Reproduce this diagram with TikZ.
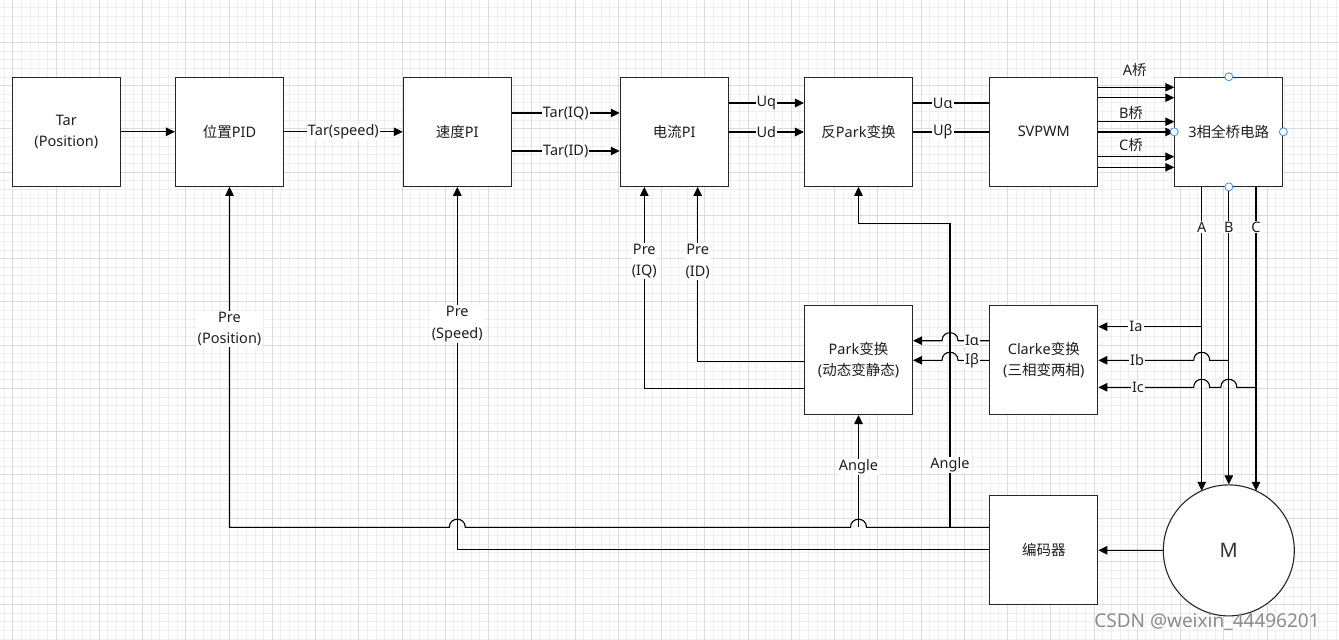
\documentclass[tikz,border=0pt]{standalone}
\usepackage{fontspec}
\setmainfont{Noto Sans}
\newfontfamily\cjk{Noto Sans CJK SC}
\usetikzlibrary{arrows.meta,calc}
\newcommand\myfs{\fontsize{14.5}{21.5}\selectfont}
\definecolor{gminor}{HTML}{EFEFEF}
\definecolor{gmajor}{HTML}{DCDCDC}
\definecolor{txt}{HTML}{1E1E1E}
\definecolor{hblue}{HTML}{3D8FE6}
\tikzset{
  box/.style={draw=black!85, line width=1.1pt, fill=white, minimum width=108pt, minimum height=109pt, inner sep=0pt, font=\myfs, text=txt, align=center},
  lbl/.style={fill=white, inner sep=1pt, font=\myfs, text=txt, align=center},
  ln/.style={line width=1.1pt, draw=black},
  arr/.style={ln, -{Triangle[length=9pt,width=8.5pt]}},
  handle/.style={circle, draw=hblue, fill=white, line width=0.8pt, minimum size=8pt, inner sep=0pt},
}
\begin{document}
\begin{tikzpicture}[x=1pt,y=-1pt]
\useasboundingbox (0,0) rectangle (1339,640);
\fill[white] (0,0) rectangle (1339,640);
% grid
\foreach \i in {0,...,154} \draw[gminor, line width=0.8pt] ({4.05+8.65*\i},0) -- ({4.05+8.65*\i},640);
\foreach \i in {0,...,73} \draw[gminor, line width=0.8pt] (0,{7.7+8.65*\i}) -- (1339,{7.7+8.65*\i});
\foreach \i in {0,...,30} \draw[gmajor, line width=0.8pt] ({12.7+43.25*\i},0) -- ({12.7+43.25*\i},640);
\foreach \i in {0,...,13} \draw[gmajor, line width=0.8pt] (0,{42.3+43.25*\i}) -- (1339,{42.3+43.25*\i});

% boxes
\node[box] (tar) at (66.3,131.8) {Tar\\(Position)};
\node[box] (pid) at (229.5,131.8) {{\cjk 位置}PID};
\node[box] (spd) at (457.3,131.8) {{\cjk 速度}PI};
\node[box] (cur) at (674.3,131.8) {{\cjk 电流}PI};
\node[box] (ipk) at (858.5,131.8) {{\cjk 反}Park{\cjk 变换}};
\node[box] (svp) at (1043.8,131.8) {SVPWM};
\node[box] (brg) at (1228.8,131.8) {3{\cjk 相全桥电路}};
\node[box] (park) at (858.5,360) {Park{\cjk 变换}\\({\cjk 动态变静态})};
\node[box] (clk) at (1043.8,359.8) {Clarke{\cjk 变换}\\({\cjk 三相变两相})};
\node[box] (enc) at (1043.8,550.3) {{\cjk 编码器}};
\node[circle, draw=black!85, line width=1.1pt, fill=white, minimum size=131pt, inner sep=0pt, font=\fontsize{20}{24}\selectfont, text=black!80] (motor) at (1228.8,550.4) {M};

% junction coordinates
\coordinate (mA) at (1201.7,490.8);
\coordinate (mC) at (1256,490.8);
\coordinate (jIa) at (1201.7,326.7);
\coordinate (jIb) at (1228.8,360.3);
\coordinate (jIc) at (1256,387.3);
\coordinate (jAng) at (950,527.3);
\coordinate (jAng2) at (858.5,527.3);

% top row connectors
\draw[arr] (tar.east) -- (pid.west);
\draw[arr] (pid.east) -- node[lbl] (l1) {Tar(speed)} (spd.west);
\draw[arr] (spd.east |- 0,113) -- node[lbl] (l2) {Tar(IQ)} (cur.west |- 0,113);
\draw[arr] (spd.east |- 0,151) -- node[lbl] (l3) {Tar(ID)} (cur.west |- 0,151);
\draw[arr] (cur.east |- 0,103) -- node[lbl] (l4) {Uq} (ipk.west |- 0,103);
\draw[arr] (cur.east |- 0,132) -- node[lbl] (l5) {Ud} (ipk.west |- 0,132);
\draw[ln] (ipk.east |- 0,103) -- node[lbl,pos=0.39] (l6) {Uα} (svp.west |- 0,103);
\draw[ln] (ipk.east |- 0,132) -- node[lbl,pos=0.39] (l7) {Uβ} (svp.west |- 0,132);
\foreach \yy in {87.3,97.7,121.7,132,156.7,167.3}
  \draw[arr] (svp.east |- 0,\yy) -- (brg.west |- 0,\yy);
\node[lbl] (lA) at (1134.7,70) {A{\cjk 桥}};
\node[lbl] (lB) at (1131,113) {B{\cjk 桥}};
\node[lbl] (lC) at (1131,145) {C{\cjk 桥}};

% phase lines
\draw[arr] (1201.7,0 |- brg.south) -- (mA);
\draw[arr] (brg.south) -- (motor.north);
\draw[arr] (1256,0 |- brg.south) -- (mC);
\node[lbl] (pA) at (1201.7,227) {A};
\node[lbl] (pB) at (1228.8,227) {B};
\node[lbl] (pC) at (1256,227) {C};

% current feedback to Clarke
\draw[arr] (jIa) -- (clk.east |- jIa);
\draw[arr] (jIb) -- (1209.7,360.3) .. controls (1209.7,349.6) and (1193.7,349.6) .. (1193.7,360.3) -- (clk.east |- jIb);
\draw[arr] (jIc) -- (1236.8,387.3) .. controls (1236.8,376.6) and (1220.8,376.6) .. (1220.8,387.3)
  -- (1209.7,387.3) .. controls (1209.7,376.6) and (1193.7,376.6) .. (1193.7,387.3) -- (clk.east |- jIc);
\node[lbl] (lIa) at (1136,326.7) {Ia};
\node[lbl] (lIb) at (1137,360.3) {Ib};
\node[lbl] (lIc) at (1138,387.3) {Ic};

% Clarke to Park
\draw[arr] (clk.west |- 0,340.7) -- (958,340.7) .. controls (958,330) and (942,330) .. (942,340.7) -- (park.east |- 0,340.7);
\draw[arr] (clk.west |- 0,360.3) -- (958,360.3) .. controls (958,349.6) and (942,349.6) .. (942,360.3) -- (park.east |- 0,360.3);
\node[lbl] (lIal) at (972,340.7) {Iα};
\node[lbl] (lIbe) at (972,360.3) {Iβ};

% Park to current PI
\draw[arr] (park.west |- 0,388.3) -| (644.3,0 |- cur.south);
\draw[arr] (park.west |- 0,361.3) -| (697.7,0 |- cur.south);
\node[lbl] (pIQ) at (644.3,261) {Pre\\(IQ)};
\node[lbl] (pID) at (697.7,261.5) {Pre\\(ID)};

% encoder feedback
\draw[arr] (motor.west) -- (enc.east);
\draw[arr] (enc.west |- 0,527.3) -- (866.5,527.3) .. controls (866.5,516.6) and (850.5,516.6) .. (850.5,527.3)
  -- (465.3,527.3) .. controls (465.3,516.6) and (449.3,516.6) .. (449.3,527.3) -| (pid.south);
\draw[arr] (enc.west |- 0,549.7) -| (spd.south);
\draw[arr] (jAng) -- (950,223.3) -| (ipk.south);
\draw[arr] (jAng2) -- (park.south);
\node[lbl] (pPos) at (229.5,329) {Pre\\(Position)};
\node[lbl] (pSpd) at (457.3,324) {Pre\\(Speed)};
\node[lbl] (ang1) at (858.5,467) {Angle};
\node[lbl] (ang2) at (950,465) {Angle};

% selection handles
\node[handle] (h1) at (brg.north) {};
\node[handle] (h2) at (brg.west) {};
\node[handle] (h3) at (brg.east) {};
\node[handle] (h4) at (brg.south) {};

% watermark
\node[font=\fontsize{19}{22}\selectfont, text=black!45, inner sep=0pt] (wm) at (1207,621.7) {CSDN @weixin\_44496201};
\end{tikzpicture}
\end{document}
